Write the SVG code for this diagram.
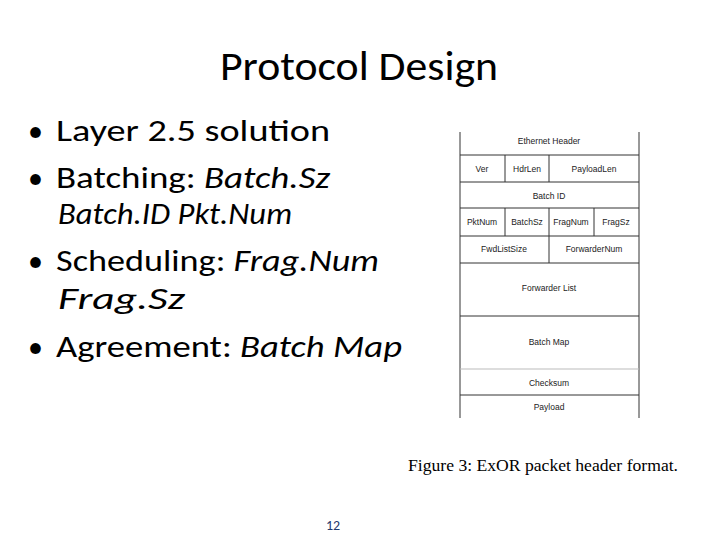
<svg xmlns="http://www.w3.org/2000/svg" width="720" height="540" viewBox="0 0 720 540">
<style>
.b{font-family:Carlito,Calibri,"Liberation Sans",sans-serif;font-size:30px;fill:#000}
.f{font-family:"Liberation Sans",Arial,sans-serif;font-size:8.5px;fill:#222;text-anchor:middle}
.l{stroke:#333;stroke-width:1}
</style>
<rect width="720" height="540" fill="#fff"/>
<text x="220" y="80" font-family="Carlito,Calibri,'Liberation Sans',sans-serif" font-size="40" textLength="278" lengthAdjust="spacingAndGlyphs">Protocol Design</text>
<g id="bullets" class="b">
<text x="28" y="141">•</text><text x="56" y="141" textLength="274" lengthAdjust="spacingAndGlyphs">Layer 2.5 solution</text>
<text x="28" y="188">•</text><text x="56" y="188" textLength="274" lengthAdjust="spacingAndGlyphs">Batching: <tspan font-style="italic">Batch.Sz</tspan></text>
<text x="58" y="224" font-style="italic" textLength="234" lengthAdjust="spacingAndGlyphs">Batch.ID Pkt.Num</text>
<text x="28" y="271">•</text><text x="56" y="271" textLength="323" lengthAdjust="spacingAndGlyphs">Scheduling: <tspan font-style="italic">Frag.Num</tspan></text>
<text x="58" y="309" font-style="italic" textLength="127" lengthAdjust="spacingAndGlyphs">Frag.Sz</text>
<text x="28" y="357">•</text><text x="56" y="357" textLength="346" lengthAdjust="spacingAndGlyphs">Agreement: <tspan font-style="italic">Batch Map</tspan></text>
</g>
<g id="header">
<line class="l" x1="460" y1="132" x2="460" y2="418"/>
<line class="l" x1="639" y1="132" x2="639" y2="418"/>
<line class="l" x1="460" y1="155" x2="639" y2="155"/>
<line class="l" x1="460" y1="182" x2="639" y2="182"/>
<line class="l" x1="460" y1="208" x2="639" y2="208"/>
<line class="l" x1="460" y1="236" x2="639" y2="236"/>
<line class="l" x1="460" y1="263" x2="639" y2="263"/>
<line class="l" x1="460" y1="316" x2="639" y2="316"/>
<line x1="460" y1="369" x2="639" y2="369" stroke="#bbb"/>
<line class="l" x1="460" y1="395" x2="639" y2="395"/>
<line class="l" x1="505" y1="155" x2="505" y2="182"/>
<line class="l" x1="549" y1="155" x2="549" y2="182"/>
<line class="l" x1="505" y1="208" x2="505" y2="236"/>
<line class="l" x1="549" y1="208" x2="549" y2="263"/>
<line class="l" x1="594" y1="208" x2="594" y2="236"/>
<text class="f" x="549" y="144">Ethernet Header</text>
<text class="f" x="482" y="172">Ver</text>
<text class="f" x="527" y="172">HdrLen</text>
<text class="f" x="594" y="172">PayloadLen</text>
<text class="f" x="549" y="199">Batch ID</text>
<text class="f" x="482" y="225">PktNum</text>
<text class="f" x="527" y="225">BatchSz</text>
<text class="f" x="571" y="225">FragNum</text>
<text class="f" x="616" y="225">FragSz</text>
<text class="f" x="504" y="252">FwdListSize</text>
<text class="f" x="594" y="252">ForwarderNum</text>
<text class="f" x="549" y="291">Forwarder List</text>
<text class="f" x="549" y="345">Batch Map</text>
<text class="f" x="549" y="386">Checksum</text>
<text class="f" x="549" y="410">Payload</text>
</g>
<text x="408" y="471" font-family="Liberation Serif,serif" font-size="16" textLength="270" lengthAdjust="spacingAndGlyphs">Figure 3:  ExOR packet header format.</text>
<text x="333" y="530" font-family="Carlito,Liberation Sans,sans-serif" font-size="14" fill="#1f3a6e" text-anchor="middle">12</text>
</svg>
